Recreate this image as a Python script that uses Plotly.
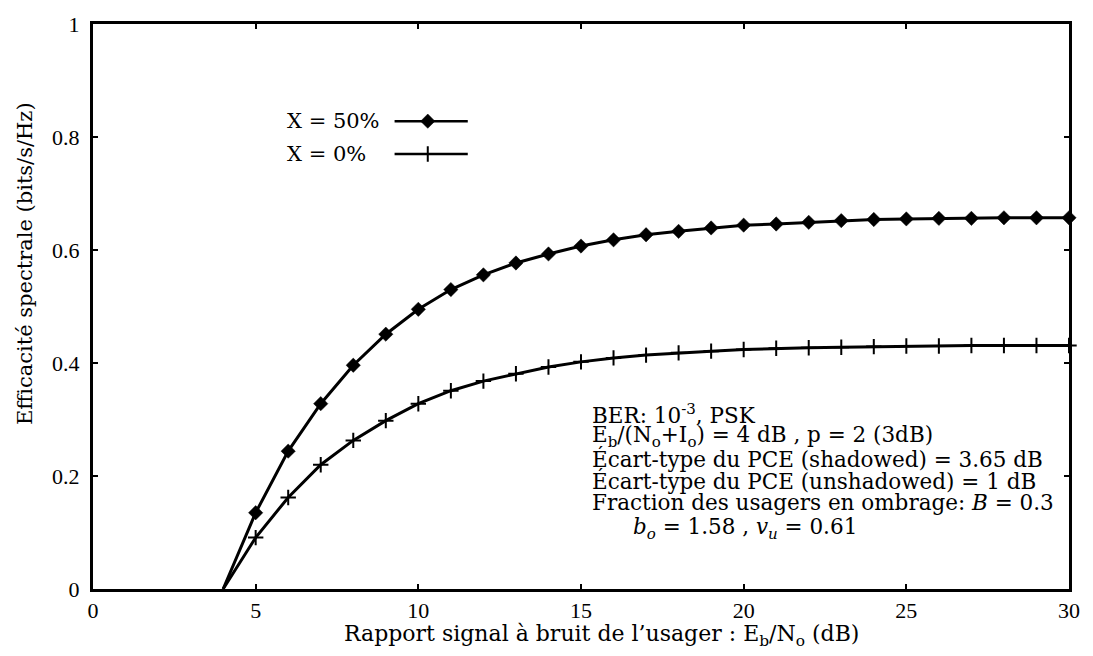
import plotly.graph_objects as go

# ---- data ----
snr_db = [4, 5, 6, 7, 8, 9, 10, 11, 12, 13, 14, 15, 16, 17, 18, 19, 20, 21, 22,
          23, 24, 25, 26, 27, 28, 29, 30]
eff_x50 = [0.0, 0.135, 0.244, 0.328, 0.396, 0.451, 0.495, 0.530, 0.556, 0.577,
           0.593, 0.607, 0.618, 0.627, 0.633, 0.639, 0.644, 0.646, 0.649, 0.652,
           0.654, 0.655, 0.656, 0.656, 0.657, 0.657, 0.657]
eff_x0 = [0.0, 0.091, 0.162, 0.220, 0.263, 0.298, 0.328, 0.351, 0.368, 0.381,
          0.393, 0.402, 0.409, 0.414, 0.418, 0.421, 0.424, 0.426, 0.427, 0.428,
          0.429, 0.430, 0.430, 0.431, 0.431, 0.431, 0.431]
x_ticks = [0, 5, 10, 15, 20, 25, 30]
y_ticks = [0, 0.2, 0.4, 0.6, 0.8, 1]
y_tick_text = ["0", "0.2", "0.4", "0.6", "0.8", "1"]
legend_names = ["X = 50%", "X = 0%"]
info_lines = [
    "BER: 10<sup>-3</sup>, PSK",
    "E<sub>b</sub>/(N<sub>o</sub>+I<sub>o</sub>) = 4 dB , p = 2 (3dB)",
    "Écart-type du PCE (shadowed) = 3.65 dB",
    "Écart-type du PCE (unshadowed) = 1 dB",
    "Fraction des usagers en ombrage: <i>B</i> = 0.3",
    "<i>b<sub>o</sub></i> = 1.58 , <i>v<sub>u</sub></i> = 0.61",
]
x_title = "Rapport signal à bruit de l’usager : E<sub>b</sub>/N<sub>o</sub> (dB)"
y_title = "Efficacité spectrale (bits/s/Hz)"

FONT = "DejaVu Serif"
TICKFONT = "Liberation Serif"
W, H = 1093, 656
L, R, T, B = 93, 24, 19, 67

fig = go.Figure()
n = len(snr_db)
fig.add_trace(go.Scatter(
    x=snr_db, y=eff_x50, mode="lines+markers", name=legend_names[0],
    line=dict(color="black", width=3),
    marker=dict(symbol="diamond", size=[0] + [11] * (n - 1), color="black",
                opacity=1, line=dict(color="black", width=0.5)),
    showlegend=False, cliponaxis=False))
fig.add_trace(go.Scatter(
    x=snr_db, y=eff_x0, mode="lines+markers", name=legend_names[1],
    line=dict(color="black", width=3),
    marker=dict(symbol="cross-thin", size=[0] + [11] * (n - 1), color="black",
                opacity=1, line=dict(color="black", width=2)),
    showlegend=False, cliponaxis=False))

# legend samples (text left, sample right) on an overlay unit axis
leg_x = [0.309, 0.343, 0.384]
leg_y = [0.828, 0.770]
for i, (sym, yy) in enumerate(zip(["diamond", "cross-thin"], leg_y)):
    fig.add_trace(go.Scatter(
        x=leg_x, y=[yy] * 3, xaxis="x2", yaxis="y2", mode="lines+markers",
        line=dict(color="black", width=2.5),
        marker=dict(symbol=sym, size=[0, 11, 0], color="black", opacity=1,
                    line=dict(color="black", width=2 if i else 0.5)),
        showlegend=False, hoverinfo="skip"))
    fig.add_annotation(x=0.197, y=yy, xref="x2", yref="y2", text=legend_names[i],
                       showarrow=False, xanchor="left", yanchor="middle",
                       font=dict(family=FONT, size=21, color="black"))

# info text block
info_y = [0.3105, 0.270, 0.2298, 0.1912, 0.1526, 0.107]
info_x = [0.509, 0.509, 0.509, 0.509, 0.509, 0.551]
for txt, xx, yy in zip(info_lines, info_x, info_y):
    fig.add_annotation(x=xx, y=yy, xref="x2", yref="y2", text=txt,
                       showarrow=False, xanchor="left", yanchor="middle",
                       font=dict(family=FONT, size=21.5, color="black"))

# axis titles
fig.add_annotation(x=0.5215, y=-0.083, xref="paper", yref="paper", text=x_title,
                   showarrow=False, xanchor="center", yanchor="middle",
                   font=dict(family=FONT, size=22, color="black"))
fig.add_annotation(x=-0.0697, y=0.577, xref="paper", yref="paper", text=y_title,
                   textangle=-90, showarrow=False, xanchor="center",
                   yanchor="middle",
                   font=dict(family=FONT, size=21, color="black"))

axis_common = dict(showgrid=False, zeroline=False, showline=True, linecolor="black",
                   linewidth=3, mirror="ticks", ticks="inside", ticklen=5,
                   tickwidth=2, tickcolor="black",
                   tickfont=dict(family=TICKFONT, size=22, color="black"))
fig.update_layout(
    width=W, height=H, margin=dict(l=L, r=R, t=T, b=B, pad=0),
    paper_bgcolor="white", plot_bgcolor="white",
    xaxis=dict(range=[0, 30], tickvals=x_ticks, ticklabelstandoff=0, **axis_common),
    yaxis=dict(range=[0, 1], tickvals=y_ticks, ticktext=y_tick_text,
               ticklabelstandoff=6, **axis_common),
    xaxis2=dict(range=[0, 1], overlaying="x", visible=False, fixedrange=True),
    yaxis2=dict(range=[0, 1], overlaying="y", visible=False, fixedrange=True),
    font=dict(family=FONT, color="black"),
)
fig.write_html("out.html")
